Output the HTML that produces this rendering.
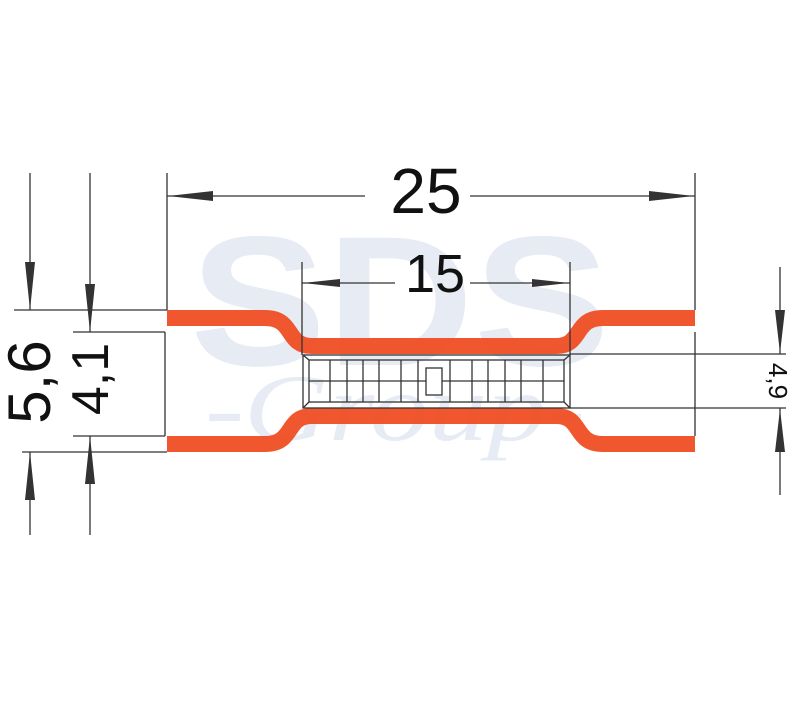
<!DOCTYPE html>
<html><head><meta charset="utf-8"><style>body{margin:0;background:#fff}svg{display:block}</style></head>
<body>
<svg width="800" height="709" viewBox="0 0 800 709" xmlns="http://www.w3.org/2000/svg" font-family="Liberation Sans, sans-serif">
<!-- watermark -->
<g fill="#e6ebf4">
<text x="400" y="365" font-size="185" font-weight="bold" text-anchor="middle" textLength="420" lengthAdjust="spacingAndGlyphs">SDS</text>
<text x="395" y="440" font-size="95" font-style="italic" font-family="Liberation Serif, serif" text-anchor="middle" textLength="380" lengthAdjust="spacingAndGlyphs">-Group-</text>
</g>
<!-- orange body -->
<g fill="none" stroke="#f04e23" stroke-width="16" stroke-opacity="0.95">
<path d="M167 318 H265 C295 318 285 346 312 346 H556 C583 346 573 318 603 318 H695"/>
<path d="M167 444 H265 C295 444 285 416 312 416 H556 C583 416 573 444 603 444 H695"/>
</g>
<!-- inner grid -->
<g fill="none" stroke="#333" stroke-width="1.3">
<rect x="303" y="355" width="267" height="53"/>
<rect x="309" y="360" width="255" height="42"/>
<path d="M303 355 L309 360 M570 355 L564 360 M303 408 L309 402 M570 408 L564 402 M309 381 H564"/>
<path d="M330 360V402M347 360V402M363 360V402M379 360V402M401 360V402M418 360V402M450 360V402M472 360V402M488 360V402M505 360V402M521 360V402M543 360V402"/>
<rect x="426" y="368" width="16" height="27" fill="#fff"/>
</g>
<!-- dimension lines -->
<g stroke="#333" stroke-width="1.3" fill="none">
<path d="M167 173V310M695 173V310M167 196H365M470 196H695"/>
<path d="M302 262V355M570 262V355M302 283H395M470 283H570"/>
<path d="M14 310H167M22 452H167M73 332H165M73 436H165M165 332V436"/>
<path d="M30 173V310M30 452V535M90 173V332M90 436V535"/>
<path d="M570 354H786M570 408H786M695 332V436M780 267V354M780 408V495"/>
</g>
<g fill="#333">
<path d="M168 196 L213 191 L213 201Z"/><path d="M694 196 L649 191 L649 201Z"/>
<path d="M303 283 L340 279 L340 287Z"/><path d="M569 283 L532 279 L532 287Z"/>
<path d="M30 310 L25 262 L35 262Z"/><path d="M30 452 L25 500 L35 500Z"/>
<path d="M90 332 L85 284 L95 284Z"/><path d="M90 436 L85 484 L95 484Z"/>
<path d="M780 353 L775 310 L785 310Z"/><path d="M780 409 L775 452 L785 452Z"/>
</g>
<g fill="#111">
<text x="426" y="213" font-size="64" text-anchor="middle">25</text>
<text x="435" y="292" font-size="54" text-anchor="middle">15</text>
<text transform="translate(50,382) rotate(-90)" font-size="60" text-anchor="middle">5,6</text>
<text transform="translate(108,379) rotate(-90)" font-size="52" text-anchor="middle">4,1</text>
<text transform="translate(769,381) rotate(90)" font-size="26" text-anchor="middle">4,9</text>
</g>
</svg>
</body></html>
